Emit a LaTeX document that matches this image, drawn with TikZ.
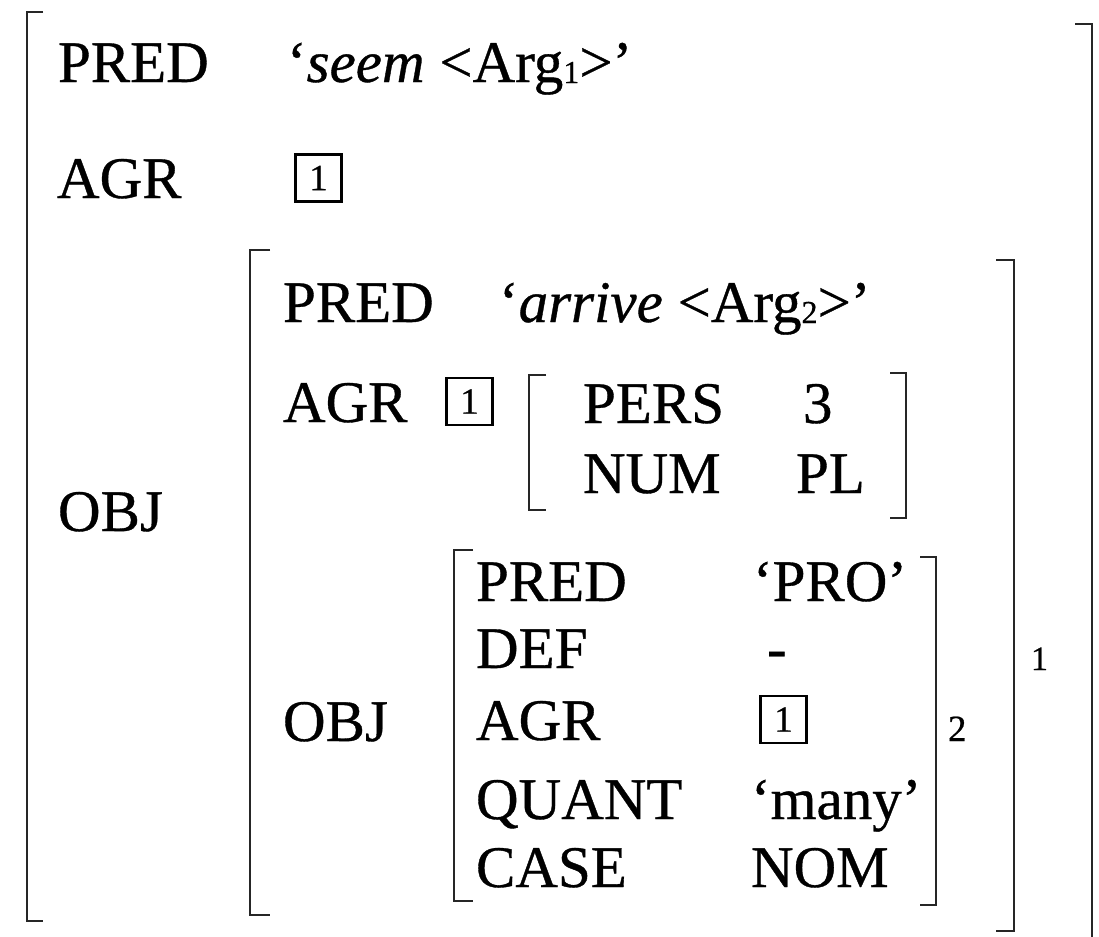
\documentclass[tikz,border=0pt]{standalone}
\usepackage{fontspec}
\setmainfont{Liberation Serif}[FakeBold=0.6]
\newcommand\argsub[1]{\raisebox{-1bp}{\fontsize{32bp}{32bp}\selectfont #1}}
\tikzset{
  lbl/.style={anchor=base west, inner sep=0pt, outer sep=0pt, font=\fontsize{59bp}{70bp}\selectfont},
  tagbox/.style={draw, line width=2.2bp, inner sep=0pt, minimum width=46bp, minimum height=47bp, font=\fontsize{37bp}{37bp}\selectfont},
  brk/.style={line width=2.4bp, draw=black!85, line cap=butt, line join=miter},
  idx/.style={anchor=base west, inner sep=0pt, outer sep=0pt},
}
\begin{document}
\begin{tikzpicture}[x=1bp,y=-1bp]
\useasboundingbox (0,0) rectangle (1099,937);
\fill[white] (0,0) rectangle (1099,937);
% outer brackets
\draw[brk] (43,12) -- (27,12) -- (27,921) -- (43,921);
\draw[brk] (1075,24) -- (1092,24) -- (1092,950);
% outer rows
\node[lbl] (pred0) at (58,82) {PRED};
\node[lbl] (predv0) at (287,82) {‘\textit{seem} <Arg\argsub{1}>’};
\node[lbl] (agr0) at (57,198) {AGR};
\node[tagbox] (tag0) at (318.5,178) {1};
\node[lbl] (obj0) at (58,531) {OBJ};
% inner f-structure brackets
\draw[brk] (270,250) -- (250,250) -- (250,915) -- (270,915);
\draw[brk] (996,260) -- (1014,260) -- (1014,931) -- (996,931);
\node[idx, font=\fontsize{34bp}{34bp}\selectfont] (sub1) at (1031,670) {1};
% inner rows
\node[lbl] (pred1) at (283,322) {PRED};
\node[lbl] (predv1) at (499,322) {‘\textit{arrive} <Arg\argsub{2}>’};
\node[lbl] (agr1) at (283,422) {AGR};
\node[tagbox] (tag1) at (469.5,401.5) {1};
% AGR brackets
\draw[brk] (546,375) -- (529,375) -- (529,510) -- (546,510);
\draw[brk] (890,373) -- (906,373) -- (906,518) -- (890,518);
\node[lbl] (pers) at (583,423) {PERS};
\node[lbl] (persv) at (803,423) {3};
\node[lbl] (num) at (583,493) {NUM};
\node[lbl] (numv) at (796,493) {PL};
\node[lbl] (obj1) at (283,741) {OBJ};
% innermost brackets
\draw[brk] (473,550) -- (454,550) -- (454,901) -- (473,901);
\draw[brk] (920,557) -- (936,557) -- (936,905) -- (920,905);
\node[idx, font=\fontsize{37bp}{37bp}\selectfont] (sub2) at (948,741) {2};
% innermost rows
\node[lbl] (pred2) at (476,601) {PRED};
\node[lbl] (predv2) at (753,601) {‘PRO’};
\node[lbl] (def2) at (476,668) {DEF};
\node[lbl] (defv2) at (767,668) {-};
\node[lbl] (agr2) at (476,740) {AGR};
\node[tagbox] (tag2) at (783.5,719.5) {1};
\node[lbl] (quant2) at (476,819) {QUANT};
\node[lbl] (quantv2) at (751,819) {‘many’};
\node[lbl] (case2) at (476,887) {CASE};
\node[lbl] (casev2) at (751,887) {NOM};
\end{tikzpicture}
\end{document}
